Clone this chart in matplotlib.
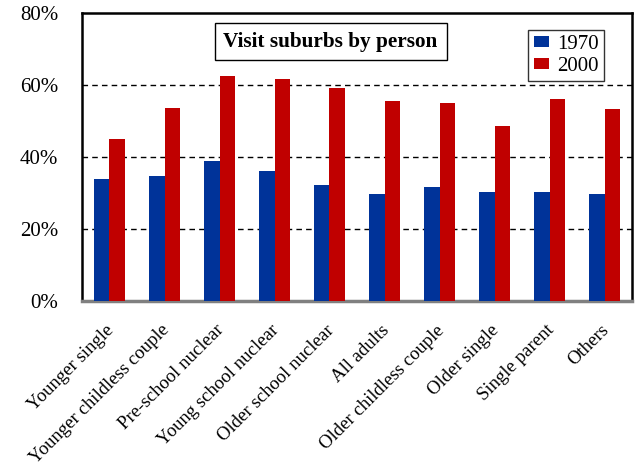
import matplotlib
matplotlib.use("Agg")
import matplotlib.pyplot as plt
import matplotlib.transforms as mtransforms
from matplotlib.patches import Rectangle
from matplotlib.legend_handler import HandlerPatch
import numpy as np
from matplotlib.ticker import FuncFormatter

categories = ["Younger single", "Younger childless couple", "Pre-school nuclear",
              "Young school nuclear", "Older school nuclear", "All adults",
              "Older childless couple", "Older single", "Single parent", "Others"]
v1970 = [34.0, 34.8, 38.9, 36.0, 32.1, 29.6, 31.6, 30.2, 30.2, 29.8]
v2000 = [45.1, 53.6, 62.4, 61.8, 59.3, 55.6, 55.0, 48.5, 56.2, 53.4]
yticks = [0, 20, 40, 60, 80]

plt.rcParams['font.family'] = ['Liberation Serif', 'DejaVu Serif']

fig = plt.figure(figsize=(6.42, 4.68), dpi=100)
ax = fig.add_axes([82/642, 1-301/468, 550/642, 288/468])

x = np.arange(len(categories))
w = 0.29
ax.bar(x - w/2, v1970, w, color='#003399', label='1970', zorder=3)
ax.bar(x + w/2, v2000, w, color='#C00000', label='2000', zorder=3)

ax.set_xlim(-0.5, len(categories) - 0.5)
ax.set_ylim(0, 80)
ax.set_yticks(yticks)
ax.yaxis.set_major_formatter(FuncFormatter(lambda v, p: f"{v:.0f}%"))
for g in [20, 40, 60]:
    ax.axhline(g, color='black', linestyle=(0, (4, 3)), linewidth=1.0, zorder=1)

ax.tick_params(axis='y', length=0, labelsize=15, pad=17)
ax.tick_params(axis='x', length=0, labelsize=13.5, pad=15)
ax.set_xticks(x)
ax.set_xticklabels(categories, rotation=45, ha='right', rotation_mode='anchor')
offset = mtransforms.ScaledTranslation(-4/100, 0, fig.dpi_scale_trans)
for lab in ax.get_xticklabels():
    lab.set_transform(lab.get_transform() + offset)

for s in ['left', 'right', 'top']:
    ax.spines[s].set_linewidth(1.8)
    ax.spines[s].set_color('black')
ax.spines['bottom'].set_linewidth(2.5)
ax.spines['bottom'].set_color('#808080')

ax.text(0.452, 0.901, "Visit suburbs by person", transform=ax.transAxes,
        ha='center', va='center', fontsize=15.3, fontweight='bold',
        bbox=dict(boxstyle='square,pad=0.42', facecolor='white', edgecolor='black', linewidth=1.0),
        zorder=5)


def square_patch(legend, orig_handle, xdescent, ydescent, width, height, fontsize):
    side = 0.45 * fontsize
    return Rectangle((width - xdescent - side, -ydescent + (height - side) / 2), side, side)


leg = ax.legend(loc='upper right', bbox_to_anchor=(0.949, 0.941), fontsize=15,
                frameon=True, fancybox=False, edgecolor='black', handlelength=0.75,
                handleheight=0.45, handletextpad=0.38, borderpad=0.25, labelspacing=0.12,
                borderaxespad=0,
                handler_map={Rectangle: HandlerPatch(patch_func=square_patch)})
leg.get_frame().set_linewidth(1.0)
leg.set_zorder(6)

fig.savefig("out.png", dpi=100, facecolor='white')
